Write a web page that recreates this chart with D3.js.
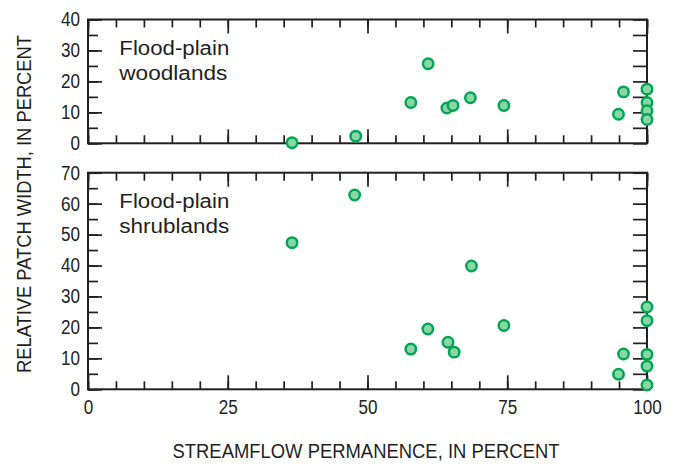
<!DOCTYPE html>
<html>
<head>
<meta charset="utf-8">
<script src="https://cdn.jsdelivr.net/npm/d3@7"></script>
<style>
  html, body { margin: 0; padding: 0; background: #fff; }
  svg { display: block; }
  text { font-family: "Liberation Sans", Arial, sans-serif; fill: #231f20; }
</style>
</head>
<body>
<svg id="chart" width="678" height="464"></svg>
<script>
// Streamflow permanence (percent) at each site, woodland panel
const woodlandX = [36.5, 47.9, 57.75, 60.85, 64.2, 65.3, 68.4, 74.4, 94.9, 95.8, 100, 100, 100, 100];
// Relative patch width (percent) of flood-plain woodlands
const woodlands = [0.2, 2.3, 13.2, 25.7, 11.4, 12.2, 14.7, 12.2, 9.4, 16.6, 17.5, 13.2, 10.5, 7.7];
// Streamflow permanence (percent) at each site, shrubland panel
const shrublandX = [36.5, 47.7, 68.6, 57.75, 60.8, 64.4, 65.5, 74.4, 94.9, 95.8, 100, 100, 100, 100, 100];
// Relative patch width (percent) of flood-plain shrublands
const shrublands = [47.4, 62.8, 39.85, 13.0, 19.5, 15.2, 12.0, 20.6, 4.85, 11.4, 26.6, 22.2, 11.3, 7.5, 1.4];

const xMajorTicks = [0, 25, 50, 75, 100];
const woodlandYTicks = [0, 10, 20, 30, 40];
const shrublandYTicks = [0, 10, 20, 30, 40, 50, 60, 70];

const panelNames = [["Flood-plain", "woodlands"], ["Flood-plain", "shrublands"]];
const xTitle = "STREAMFLOW PERMANENCE, IN PERCENT";
const yTitle = "RELATIVE PATCH WIDTH, IN PERCENT";

const svg = d3.select("#chart");
const left = 88, right = 647;
const ink = "#231f20";
const fontSize = 20;
const digitWidth = 9.5;
const nameWidths = { "Flood-plain": 110, "woodlands": 108, "shrublands": 110 };

const x = d3.scaleLinear().domain([0, 100]).range([left, right]);

function panel(top, bottom, yMax, yTicks, xs, ys, names, showXLabels) {
  const y = d3.scaleLinear().domain([0, yMax]).range([bottom, top]);
  const g = svg.append("g");
  const minorX = d3.range(0, 101, 5);
  const minorY = d3.range(0, yMax + 1, 5);

  const style = sel => {
    sel.select(".domain").remove();
    sel.selectAll("line").attr("stroke", ink).attr("stroke-width", 1.7);
    sel.selectAll("text")
      .attr("font-size", fontSize).attr("fill", ink)
      .style("font-family", '"Liberation Sans", Arial, sans-serif')
      .attr("textLength", d => String(d).length * digitWidth)
      .attr("lengthAdjust", "spacingAndGlyphs");
  };

  // bottom edge: minor and major inward ticks
  g.append("g").attr("transform", `translate(0,${bottom})`)
    .call(d3.axisBottom(x).tickValues(minorX).tickSize(-8).tickSizeOuter(0).tickFormat(""))
    .call(style);
  g.append("g").attr("transform", `translate(0,${bottom})`)
    .call(d3.axisBottom(x).tickValues(xMajorTicks).tickSize(-14).tickSizeOuter(0).tickPadding(10.5)
      .tickFormat(showXLabels ? d3.format("d") : ""))
    .call(style)
    .call(s => s.selectAll("text").attr("dy", "0.71em"));
  // top edge
  g.append("g").attr("transform", `translate(0,${top})`)
    .call(d3.axisTop(x).tickValues(minorX).tickSize(-8).tickSizeOuter(0).tickFormat(""))
    .call(style);
  g.append("g").attr("transform", `translate(0,${top})`)
    .call(d3.axisTop(x).tickValues(xMajorTicks).tickSize(-14).tickSizeOuter(0).tickFormat(""))
    .call(style);
  // left edge: minor and labelled ticks
  g.append("g").attr("transform", `translate(${left},0)`)
    .call(d3.axisLeft(y).tickValues(minorY).tickSize(-10).tickSizeOuter(0).tickFormat(""))
    .call(style);
  g.append("g").attr("transform", `translate(${left},0)`)
    .call(d3.axisLeft(y).tickValues(yTicks).tickSize(-14).tickSizeOuter(0).tickPadding(8).tickFormat(d3.format("d")))
    .call(style);
  // right edge
  g.append("g").attr("transform", `translate(${right},0)`)
    .call(d3.axisRight(y).tickValues(minorY).tickSize(-14).tickSizeOuter(0).tickFormat(""))
    .call(style);

  // frame
  g.append("rect")
    .attr("x", left).attr("y", top)
    .attr("width", right - left).attr("height", bottom - top)
    .attr("fill", "none").attr("stroke", ink).attr("stroke-width", 2);

  // panel name, one text per line
  g.append("g").selectAll("text").data(names).join("text")
    .attr("x", x(5.6))
    .attr("y", (d, i) => top + 35.5 + i * 24.7)
    .attr("font-size", fontSize)
    .attr("textLength", d => nameWidths[d])
    .attr("lengthAdjust", "spacingAndGlyphs")
    .text(d => d);

  // points
  g.append("g").selectAll("circle")
    .data(d3.zip(xs, ys)).join("circle")
    .attr("cx", d => x(d[0])).attr("cy", d => y(d[1]))
    .attr("r", 5.2)
    .attr("fill", "#8ad6a6")
    .attr("stroke", "#00a651")
    .attr("stroke-width", 2.5);
}

panel(19.5, 143.3, 40, woodlandYTicks, woodlandX, woodlands, panelNames[0], false);
panel(172.7, 389.3, 70, shrublandYTicks, shrublandX, shrublands, panelNames[1], true);

// axis titles
svg.append("text")
  .attr("x", 366).attr("y", 458)
  .attr("text-anchor", "middle")
  .attr("font-size", fontSize)
  .attr("textLength", 387)
  .attr("lengthAdjust", "spacingAndGlyphs")
  .text(xTitle);

svg.append("text")
  .attr("transform", `translate(30.5,204) rotate(-90)`)
  .attr("text-anchor", "middle")
  .attr("font-size", fontSize)
  .attr("textLength", 338)
  .attr("lengthAdjust", "spacingAndGlyphs")
  .text(yTitle);
</script>
</body>
</html>
